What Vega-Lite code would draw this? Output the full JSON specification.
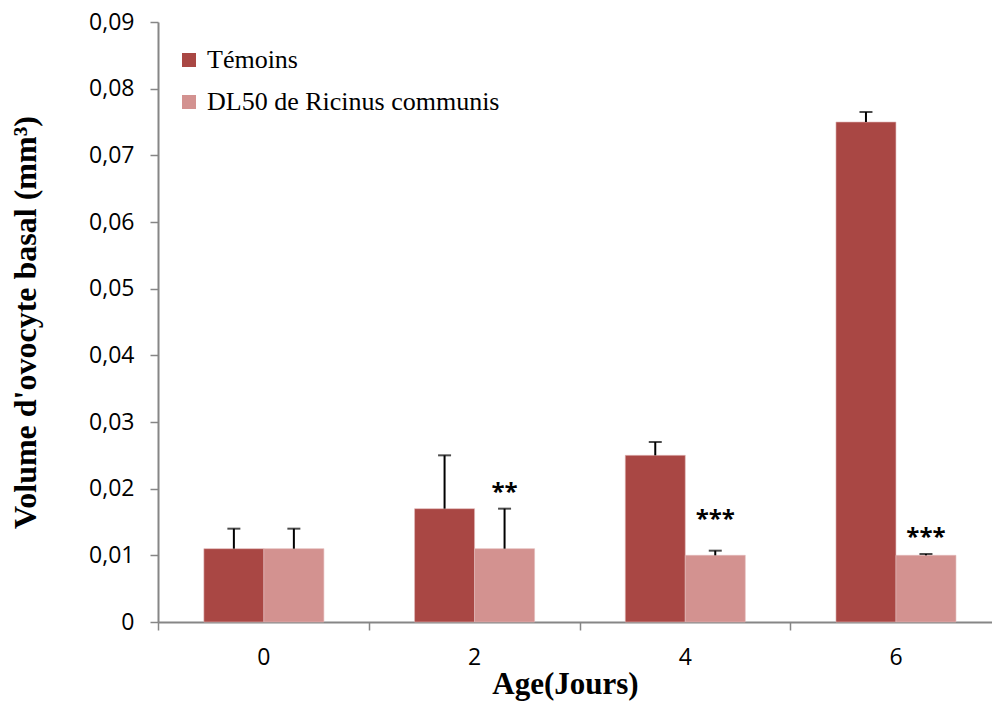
{
  "$schema": "https://vega.github.io/schema/vega-lite/v6.json",
  "autosize": {"type": "none"},
  "padding": {"left": 158, "top": 22, "right": 0, "bottom": 82},
  "width": 834,
  "height": 600,
  "background": "white",
  "config": {
    "view": {"stroke": null},
    "axis": {
      "domainColor": "#868686",
      "domainWidth": 2,
      "tickColor": "#868686",
      "tickWidth": 1.5,
      "tickSize": 8,
      "labelFont": "Open Sans",
      "labelFontSize": 23,
      "labelColor": "#000000",
      "titleFont": "Liberation Serif",
      "titleFontWeight": "bold",
      "titleFontSize": 31,
      "titleColor": "#000000",
      "grid": false
    }
  },
  "datasets": {
    "volumes": [
      {"age": "0", "groupe": "Témoins", "volume": 0.011, "upper": 0.014},
      {"age": "0", "groupe": "DL50 de Ricinus communis", "volume": 0.011, "upper": 0.014},
      {"age": "2", "groupe": "Témoins", "volume": 0.017, "upper": 0.025},
      {"age": "2", "groupe": "DL50 de Ricinus communis", "volume": 0.011, "upper": 0.017},
      {"age": "4", "groupe": "Témoins", "volume": 0.025, "upper": 0.027},
      {"age": "4", "groupe": "DL50 de Ricinus communis", "volume": 0.010, "upper": 0.0107},
      {"age": "6", "groupe": "Témoins", "volume": 0.075, "upper": 0.0765},
      {"age": "6", "groupe": "DL50 de Ricinus communis", "volume": 0.010, "upper": 0.0102}
    ],
    "significance": [
      {"age": "2", "groupe": "DL50 de Ricinus communis", "stars": "**", "level": 0.020},
      {"age": "4", "groupe": "DL50 de Ricinus communis", "stars": "***", "level": 0.0159},
      {"age": "6", "groupe": "DL50 de Ricinus communis", "stars": "***", "level": 0.0132}
    ]
  },
  "layer": [
    {
      "data": {"name": "volumes"},
      "mark": {"type": "bar", "stroke": "#E2B9B8", "strokeWidth": 0.6},
      "encoding": {
        "x": {
          "field": "age",
          "type": "nominal",
          "sort": ["0", "2", "4", "6"],
          "scale": {"paddingInner": 0.4305, "paddingOuter": 0.1944, "align": 0.56, "round": false},
          "axis": {
            "title": "Age(Jours)",
            "labelAngle": 0,
            "labelPadding": 16,
            "bandPosition": -0.375,
            "titleX": 407,
            "titleY": 71,
            "titleBaseline": "alphabetic"
          }
        },
        "xOffset": {
          "field": "groupe",
          "type": "nominal",
          "sort": ["Témoins", "DL50 de Ricinus communis"],
          "scale": {"paddingInner": 0, "paddingOuter": 0}
        },
        "y": {
          "field": "volume",
          "type": "quantitative",
          "scale": {"domain": [0, 0.09], "nice": false, "zero": true},
          "axis": {
            "title": "Volume d'ovocyte basal (mm³)",
            "values": [0, 0.01, 0.02, 0.03, 0.04, 0.05, 0.06, 0.07, 0.08, 0.09],
            "labelExpr": "datum.value == 0 ? '0' : replace(format(datum.value, '.2f'), '.', ',')",
            "labelPadding": 16,
            "titleFontSize": 32,
            "titleAngle": -90,
            "titleX": -123,
            "titleY": 300,
            "titleBaseline": "alphabetic",
            "titleAlign": "center"
          }
        },
        "color": {
          "field": "groupe",
          "type": "nominal",
          "sort": ["Témoins", "DL50 de Ricinus communis"],
          "scale": {"domain": ["Témoins", "DL50 de Ricinus communis"], "range": ["#A94744", "#D39290"]},
          "legend": {
            "title": null,
            "orient": "none",
            "legendX": 18,
            "legendY": 25,
            "padding": 0,
            "symbolType": "square",
            "symbolSize": 196,
            "symbolStrokeWidth": 0,
            "labelFont": "Liberation Serif",
            "labelFontSize": 26,
            "labelColor": "#000000",
            "labelOffset": 5,
            "rowPadding": 16,
            "labelLimit": 500
          }
        }
      }
    },
    {
      "data": {"name": "volumes"},
      "mark": {"type": "rule", "color": "#000000", "strokeWidth": 2},
      "encoding": {
        "x": {"field": "age", "type": "nominal", "sort": ["0", "2", "4", "6"]},
        "xOffset": {"field": "groupe", "type": "nominal", "sort": ["Témoins", "DL50 de Ricinus communis"]},
        "y": {"field": "volume", "type": "quantitative"},
        "y2": {"field": "upper"}
      }
    },
    {
      "data": {"name": "volumes"},
      "mark": {"type": "tick", "color": "#000000", "thickness": 2, "size": 13},
      "encoding": {
        "x": {"field": "age", "type": "nominal", "sort": ["0", "2", "4", "6"]},
        "xOffset": {"field": "groupe", "type": "nominal", "sort": ["Témoins", "DL50 de Ricinus communis"]},
        "y": {"field": "upper", "type": "quantitative"}
      }
    },
    {
      "data": {"name": "significance"},
      "mark": {"type": "text", "font": "Open Sans", "fontWeight": "bold", "fontSize": 24, "color": "#000000", "baseline": "middle", "dy": 4},
      "encoding": {
        "x": {"field": "age", "type": "nominal", "sort": ["0", "2", "4", "6"]},
        "xOffset": {"field": "groupe", "type": "nominal", "sort": ["Témoins", "DL50 de Ricinus communis"]},
        "y": {"field": "level", "type": "quantitative"},
        "text": {"field": "stars"}
      }
    },
    {
      "mark": {"type": "rule", "color": "#1F3864", "strokeWidth": 1.5},
      "encoding": {"y": {"datum": 0.09}}
    }
  ]
}
